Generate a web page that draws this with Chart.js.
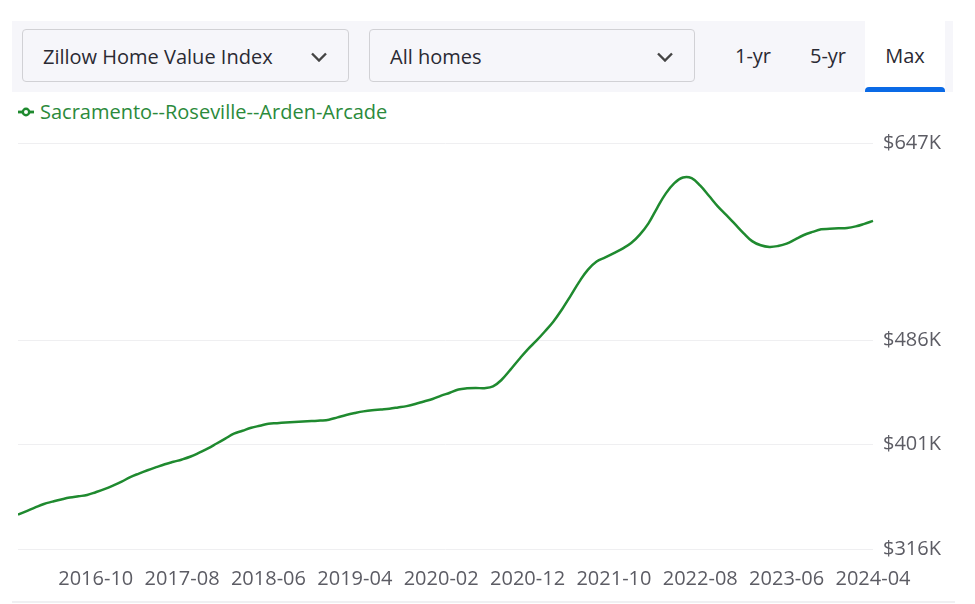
<!DOCTYPE html>
<html lang="en">
<head>
<meta charset="UTF-8">
<title>Sacramento--Roseville--Arden-Arcade ZHVI</title>
<script src="https://cdn.jsdelivr.net/npm/chart.js"></script>
<style>
  body { margin: 0; width: 975px; height: 604px; background: #fff; font-family: 'Open Sans', sans-serif; position: relative; overflow: hidden; }
  .bar { position: absolute; left: 12px; top: 21px; width: 941px; height: 71px; background: #f6f6fa; }
  .dd { position: absolute; top: 8px; height: 53px; border: 1px solid #d1d1d5; border-radius: 4px; background: #f6f6fa; box-sizing: border-box; color: #2a2a33; font-size: 20px; line-height: 53px; padding-left: 20px; }
  .dd svg { position: absolute; right: 20px; top: 22px; }
  .tab { position: absolute; top: 0; height: 71px; line-height: 70px; font-size: 20px; color: #2a2a33; text-align: center; }
  .tab.on { background: #fff; }
  .tab.on::after { content: ''; position: absolute; left: 0; right: 0; bottom: 0; height: 5px; background: #0a6ae6; border-radius: 4px 4px 0 0; }
  .legend { position: absolute; left: 18px; top: 98px; font-size: 20px; color: #2b8a3b; display: flex; align-items: center; gap: 6px; }
  .chart-wrap { position: absolute; left: 18px; top: 121px; width: 940px; height: 488px; }
  .baseline { position: absolute; left: 12px; top: 601px; width: 943px; height: 2px; background: #f0f0f2; }
</style>
</head>
<body>

<div class="bar">
  <div class="dd" style="left:10px; width:327px;">Zillow Home Value Index
    <svg width="18" height="10" viewBox="0 0 18 10"><path d="M2 1.5 L9 8.5 L16 1.5" fill="none" stroke="#444" stroke-width="2.4"/></svg>
  </div>
  <div class="dd" style="left:357px; width:326px;">All homes
    <svg width="18" height="10" viewBox="0 0 18 10"><path d="M2 1.5 L9 8.5 L16 1.5" fill="none" stroke="#444" stroke-width="2.4"/></svg>
  </div>
  <div class="tab" style="left:712px; width:58px;">1-yr</div>
  <div class="tab" style="left:786px; width:60px;">5-yr</div>
  <div class="tab on" style="left:853px; width:80px;">Max</div>
</div>

<div class="legend">
  <svg width="16" height="10" viewBox="0 0 16 10"><line x1="0" y1="5" x2="16" y2="5" stroke="#1f8a2f" stroke-width="2.8"/><circle cx="8" cy="5" r="3.2" fill="#fff" stroke="#1f8a2f" stroke-width="2.4"/></svg>
  <span>Sacramento--Roseville--Arden-Arcade</span>
</div>

<div class="chart-wrap"><canvas id="zhvi"></canvas></div>
<div class="baseline"></div>

<script>
// monthly, 2016-01 .. 2024-04, values in $K
const months = [];
for (let y = 2016; y <= 2024; y++) {
  for (let m = 1; m <= 12; m++) {
    if (y === 2024 && m > 4) break;
    months.push(y + '-' + String(m).padStart(2, '0'));
  }
}

const homeValues = [
  344, 346.9, 349.9, 352.7, 354.6, 356.4, 358, 359, 360, 362.3,
  364.8, 367.7, 370.9, 374.6, 377.5, 380.2, 382.7, 385.1, 387.1, 389,
  391.4, 394.6, 398, 402, 406, 410, 412.4, 414.8, 416.5, 418.1,
  418.6, 419.1, 419.5, 419.9, 420.3, 420.7, 421.4, 423.3, 425.2, 426.8,
  428.2, 429.2, 429.8, 430.4, 431.4, 432.5, 434.2, 436.3, 438.3, 441,
  443.4, 446, 447, 447.3, 447.1, 448.5, 454, 462, 470.5, 478.6,
  485.6, 493.3, 501.5, 511.5, 522.6, 534, 543.8, 550.4, 553.7, 557.2,
  560.9, 565.4, 572.3, 581.5, 594, 605.7, 614.3, 618.9, 618.3, 612.2,
  604, 595.6, 588.4, 581, 573.6, 567, 563.6, 562.3, 563, 564.9,
  568.5, 572, 574.5, 576.6, 577, 577.4, 577.7, 579, 581.1, 583.5
];

const yTicks = [316, 401, 486, 647];
const xLabelEvery = 10, xLabelStart = 9;

const ctx = document.getElementById('zhvi').getContext('2d');
new Chart(ctx, {
  type: 'line',
  data: {
    labels: months,
    datasets: [{
      label: 'Sacramento--Roseville--Arden-Arcade',
      data: homeValues,
      borderColor: '#1f8a2f',
      borderWidth: 2.5,
      pointRadius: 0,
      tension: 0.4,
      fill: false
    }]
  },
  options: {
    responsive: true,
    maintainAspectRatio: false,
    animation: false,
    layout: { padding: { top: 2, bottom: 0 } },
    plugins: { legend: { display: false }, tooltip: { enabled: false } },
    scales: {
      x: {
        offset: false,
        grid: { display: false, drawTicks: false },
        border: { display: false },
        afterFit: function (s) { s.paddingLeft = 0; },
        ticks: {
          autoSkip: false,
          maxRotation: 0,
          padding: 18,
          color: '#5c5c64',
          font: { family: 'Open Sans', size: 20 },
          callback: function (v, i) {
            return (i >= xLabelStart && (i - xLabelStart) % xLabelEvery === 0) ? months[i] : '';
          }
        }
      },
      y: {
        position: 'right',
        min: 316,
        max: 647,
        afterBuildTicks: function (s) { s.ticks = yTicks.map(v => ({ value: v })); },
        afterFit: function (s) { s.width = 85; },
        grid: { color: '#efeff1', drawTicks: false, lineWidth: 1 },
        border: { display: false },
        ticks: {
          padding: 10,
          color: '#5c5c64',
          font: { family: 'Open Sans', size: 20 },
          callback: v => '$' + v + 'K'
        }
      }
    }
  }
});
</script>
</body>
</html>
